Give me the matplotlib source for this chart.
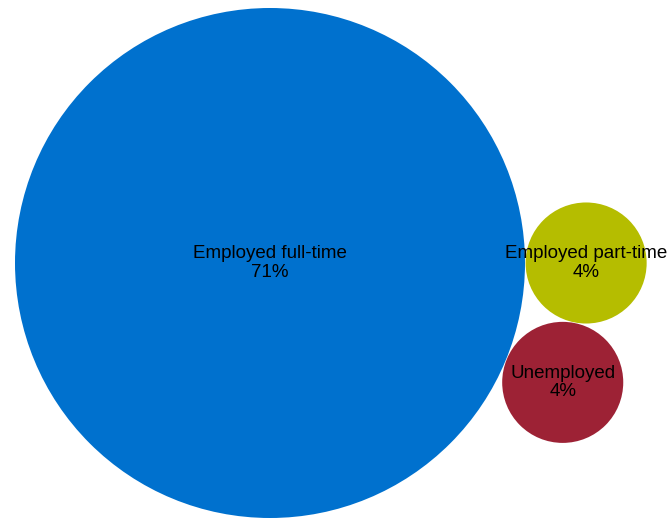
import numpy as np
import matplotlib
matplotlib.use("Agg")
import matplotlib.pyplot as plt
from matplotlib.patches import Circle

categories = ["Employed full-time", "Employed part-time", "Unemployed"]
values = [71, 4, 4]
colors = ["#0071CE", "#B5BD00", "#9D2235"]

W, H = 668, 519
fig = plt.figure(figsize=(W / 100, H / 100), dpi=100)
ax = fig.add_axes([0, 0, 1, 1])
ax.set_xlim(0, W)
ax.set_ylim(H, 0)
ax.set_aspect("equal")
ax.axis("off")

# radius proportional to sqrt(value)
k = 255 / np.sqrt(max(values))
r = [k * np.sqrt(v) for v in values]
gap = 0.6

# front-chain packing: A at origin, B tangent on the right, C tangent to both below
cA = np.array([0.0, 0.0])
dAB = r[0] + r[1] + gap
cB = np.array([dAB, 0.0])
dAC = r[0] + r[2] + gap
dBC = r[1] + r[2] + gap
xC = (dAC**2 - dBC**2 + dAB**2) / (2 * dAB)
yC = np.sqrt(max(dAC**2 - xC**2, 0))
cC = np.array([xC, yC])
centers = [cA, cB, cC]

# anchor layout so that the big circle sits at its place in the frame
offset = np.array([270.0, 263.0])
for cat, val, col, c, rr in zip(categories, values, colors, centers, r):
    p = c + offset
    ax.add_patch(Circle(p, rr, facecolor=col, edgecolor="none"))
    ax.text(p[0], p[1], f"{cat}\n{val}%", ha="center", va="center",
            fontsize=13.5, family=["Liberation Sans", "DejaVu Sans"],
            color="black", linespacing=1.12)

fig.savefig("out.png", dpi=100)
